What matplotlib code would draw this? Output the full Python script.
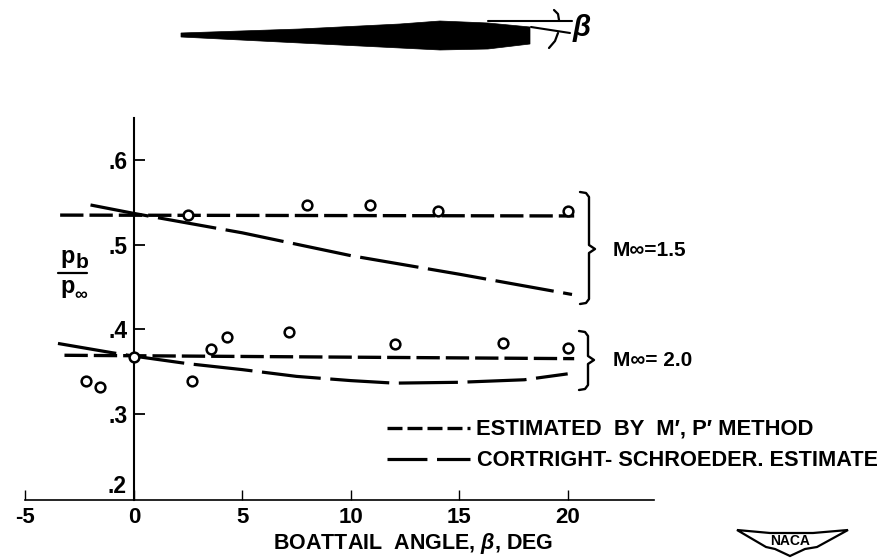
import numpy as np
import matplotlib
matplotlib.use("Agg")
import matplotlib.pyplot as plt
from matplotlib.patches import Polygon

plt.rcParams['font.family'] = ['Liberation Sans', 'DejaVu Sans']
plt.rcParams['mathtext.fontset'] = 'custom'
plt.rcParams['mathtext.it'] = 'Liberation Sans:italic:bold'
plt.rcParams['mathtext.rm'] = 'Liberation Sans:bold'

W, H = 878, 559

x_ticks = [-5, 0, 5, 10, 15, 20]
x_tick_labels = ['-5', '0', '5', '10', '15', '20']
y_ticks = [.3, .4, .5, .6]
y_tick_labels = ['.3', '.4', '.5', '.6']

m15_est_x = [-3.4, 20.3]
m15_est_y = [.535, .534]
m15_cs_x = [-2.0, 0, 5, 10, 15, 20.2]
m15_cs_y = [.547, .537, .514, .487, .465, .441]
m15_pts_x = [2.5, 8.0, 10.9, 14.0, 20.0]
m15_pts_y = [.535, .547, .547, .540, .540]

m20_est_x = [-3.2, 20.3]
m20_est_y = [.369, .365]
m20_cs_x = [-3.5, -1, 0, 2.5, 5, 7.5, 10, 12, 15, 18, 20]
m20_cs_y = [.383, .372, .368, .359, .352, .344, .339, .336, .337, .340, .347]
m20_pts_x = [-2.2, -1.55, 0, 2.7, 3.55, 4.3, 7.15, 12.05, 17.0, 20.0]
m20_pts_y = [.338, .331, .367, .339, .376, .391, .396, .382, .384, .378]

fig = plt.figure(figsize=(W/100, H/100), dpi=100, facecolor='white')

def px(x, y):
    return x / W, 1 - y / H

L, R, T, B = 25, 654, 118, 500
ax = fig.add_axes([L/W, 1-B/H, (R-L)/W, (B-T)/H])
ax.set_xlim(-5.02, 23.98)
ax.set_ylim(.1976, .65)
ax.patch.set_visible(False)
for s in ['top', 'right']:
    ax.spines[s].set_visible(False)
ax.spines['left'].set_position(('data', 0))
ax.spines['left'].set_linewidth(1.5)
ax.spines['bottom'].set_linewidth(1.2)

ax.set_xticks(x_ticks, labels=x_tick_labels)
ax.set_yticks(y_ticks, labels=y_tick_labels)
ax.tick_params(axis='x', direction='in', length=7.5, width=1, pad=5, labelsize=16)
ax.tick_params(axis='y', direction='in', length=8, width=1.3, pad=4.5, labelsize=16.5)
for lab in ax.get_yticklabels() + ax.get_xticklabels():
    lab.set_fontweight('bold')
ax.text(-0.35, .2, '.2', ha='right', va='bottom', fontsize=16.5, fontweight='bold')

est_style = dict(color='black', lw=2.4, dashes=(7, 1.8))
cs_style = dict(color='black', lw=2.3, dashes=(18.5, 3.0))
ax.plot(m15_est_x, m15_est_y, **est_style)
ax.plot(m20_est_x, m20_est_y, **est_style)
ax.plot(m15_cs_x, m15_cs_y, **cs_style)
ax.plot(m20_cs_x, m20_cs_y, **cs_style)
mk = dict(ls='none', marker='o', ms=7, mfc='white', mec='black', mew=1.8, zorder=5)
ax.plot(m15_pts_x, m15_pts_y, **mk)
ax.plot(m20_pts_x, m20_pts_y, **mk)

def ftext(x, y, s, **k):
    k.setdefault('fontweight', 'bold')
    k.setdefault('va', 'center')
    return fig.text(*px(x, y), s, **k)

def fline(xs, ys, lw=1.3, **k):
    pts = [px(a, b) for a, b in zip(xs, ys)]
    fig.add_artist(plt.Line2D([p[0] for p in pts], [p[1] for p in pts], color='black',
                              lw=lw, transform=fig.transFigure, solid_capstyle='round', **k))

ftext(413, 543, 'BOATTAIL  ANGLE, $\\beta$, DEG', fontsize=15.5, ha='center')

# y label fraction
ftext(68, 256, 'p', fontsize=17, ha='center')
ftext(82, 263, 'b', fontsize=15, ha='center')
fline([58, 87], [273, 273], lw=1.6)
ftext(68, 286, 'p', fontsize=17, ha='center')
ftext(81, 296, '\u221e', fontsize=13, ha='center')

# brackets
def bracket(x, y0, y1, ym, tip):
    fline([x-9, x-3, x, x, tip, x, x, x-3, x-9],
          [y0, y0+1, y0+5, ym-4, ym, ym+4, y1-5, y1-1, y1], lw=1.7)
bracket(589, 192, 304, 249, 595)
bracket(588, 331, 390, 360, 594)
ftext(613, 251, 'M\u221e=1.5', fontsize=15)
ftext(613, 361, 'M\u221e= 2.0', fontsize=15)

# legend
fline([387, 470], [428, 428], lw=2.4, dashes=(4.5, 1.5))
fline([387, 470], [459, 459], lw=2.3, dashes=(12.5, 3.0))
ftext(476, 429, "ESTIMATED  BY  M\u2032, P\u2032 METHOD", fontsize=15.85)
ftext(477, 460, 'CORTRIGHT- SCHROEDER. ESTIMATE', fontsize=15.7)

# model silhouette
body = [(181, 33), (300, 29), (400, 24), (440, 21), (488, 23), (530, 27),
        (530, 44), (488, 49), (440, 50), (400, 48), (300, 43), (181, 37)]
fig.add_artist(Polygon([px(*p) for p in body], closed=True, fc='black', ec='black', lw=.5,
                       transform=fig.transFigure))
fline([488, 572], [21, 21], lw=1.5)
fline([531, 570], [27, 33], lw=1.5)
fline([554, 558, 559], [10, 14, 20], lw=1.6)
fline([558, 555, 549], [33, 41, 48], lw=1.6)
ftext(582, 28, '$\\beta$', fontsize=21, ha='center')

# NACA wings
wing = [(737, 530), (770, 533), (813, 533), (848, 530), (817, 547), (805, 549), (790, 556),
        (775, 549), (766, 547)]
fig.add_artist(Polygon([px(*p) for p in wing], closed=True, fc='white', ec='black', lw=1.6,
                       transform=fig.transFigure))
ftext(790, 541, 'NACA', fontsize=10, ha='center')

fig.savefig('out.png', dpi=100, facecolor='white')
